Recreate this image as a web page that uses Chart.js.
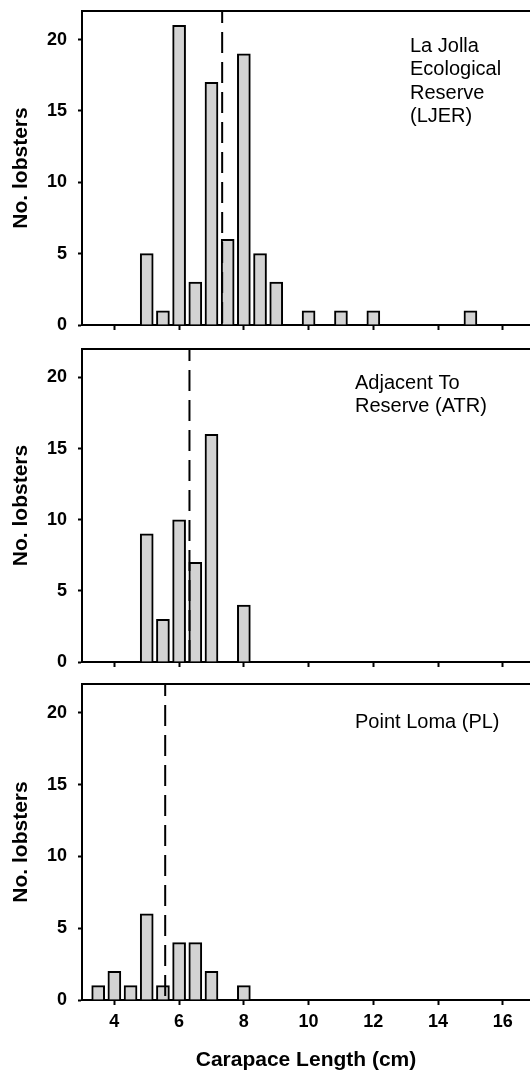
<!DOCTYPE html>
<html>
<head>
<meta charset="utf-8">
<script src="https://cdn.jsdelivr.net/npm/chart.js@4.4.0/dist/chart.umd.min.js"></script>
<style>
  body { margin: 0; background: #fff; }
  canvas { position: absolute; left: 0; }
</style>
</head>
<body>
<canvas id="ljer" width="530" height="340" style="top:0px"></canvas>
<canvas id="atr" width="530" height="337" style="top:340px"></canvas>
<canvas id="pl" width="530" height="396" style="top:677px"></canvas>
<script>
// carapace length bins (cm) and lobster counts
const ljerLengths = [5, 5.5, 6, 6.5, 7, 7.5, 8, 8.5, 9, 10, 11, 12, 15];
const ljerCounts = [5, 1, 21, 3, 17, 6, 19, 5, 3, 1, 1, 1, 1];
const ljerMean = 7.33;

const atrLengths = [5, 5.5, 6, 6.5, 7, 8];
const atrCounts = [9, 3, 10, 7, 16, 4];
const atrMean = 6.32;

const plLengths = [3.5, 4, 4.5, 5, 5.5, 6, 6.5, 7, 8];
const plCounts = [1, 2, 1, 6, 1, 4, 4, 2, 1];
const plMean = 5.57;

const xTicks = [4, 6, 8, 10, 12, 14, 16];
const yTicks = [0, 5, 10, 15, 20];

const ljerLabel = ['La Jolla', 'Ecological', 'Reserve', '(LJER)'];
const atrLabel = ['Adjacent To', 'Reserve (ATR)'];
const plLabel = ['Point Loma (PL)'];

Chart.defaults.font.family = "'Liberation Sans', Arial, sans-serif";
Chart.defaults.color = '#000';

// draws the site name inside the plot
const siteLabel = {
  id: 'siteLabel',
  afterDraw(chart, args, opts) {
    const ctx = chart.ctx;
    const area = chart.chartArea;
    ctx.save();
    ctx.font = "20px 'Liberation Sans', Arial, sans-serif";
    ctx.fillStyle = '#000';
    ctx.textAlign = 'left';
    ctx.textBaseline = 'middle';
    opts.lines.forEach((line, i) => {
      ctx.fillText(line, opts.left, area.top + opts.top + i * 23.5);
    });
    ctx.restore();
  }
};

function makePanel(id, lengths, counts, mean, label, opts) {
  const ctx = document.getElementById(id).getContext('2d');
  return new Chart(ctx, {
    type: 'bar',
    data: {
      datasets: [{
        type: 'line',
        data: [{ x: mean, y: 22 }, { x: mean, y: 0 }],
        borderColor: '#000',
        borderWidth: 2,
        borderDash: [21, 9],
        borderDashOffset: 9,
        pointRadius: 0,
        order: 0
      }, {
        type: 'bar',
        data: lengths.map((x, i) => ({ x: x, y: counts[i] })),
        backgroundColor: '#d3d3d3',
        borderColor: '#000',
        borderWidth: 2,
        barThickness: 13,
        order: 1
      }]
    },
    options: {
      responsive: false,
      animation: false,
      layout: { padding: { top: opts.padTop, left: 0, right: 0, bottom: 0 } },
      plugins: {
        legend: { display: false },
        tooltip: { enabled: false },
        siteLabel: { lines: label, left: opts.textLeft, top: opts.textTop }
      },
      scales: {
        x: {
          type: 'linear',
          position: 'bottom',
          offset: false,
          min: 3,
          max: 16.84,
          afterBuildTicks: s => { s.ticks = xTicks.map(v => ({ value: v })); },
          afterFit: s => {
            s.height = opts.xHeight;
            s.paddingLeft = 0; s.paddingRight = 0;
          },
          grid: { offset: false, drawOnChartArea: false, drawTicks: true, tickLength: 5, tickWidth: 2, tickColor: '#000' },
          border: { display: true, color: '#000', width: 2 },
          ticks: {
            display: opts.showX,
            padding: 6,
            font: { size: 18, weight: 'bold' }
          },
          title: {
            display: opts.showX,
            text: 'Carapace Length (cm)',
            font: { size: 21, weight: 'bold' },
            padding: { top: 0, bottom: 0 }
          }
        },
        xTop: {
          type: 'linear',
          position: 'top',
          offset: false,
          min: 3,
          max: 16.84,
          afterFit: s => { s.height = 0; },
          grid: { offset: false, drawOnChartArea: false, drawTicks: false },
          border: { display: true, color: '#000', width: 2 },
          ticks: { display: false }
        },
        y: {
          min: 0,
          max: 22,
          afterBuildTicks: s => { s.ticks = yTicks.map(v => ({ value: v })); },
          afterFit: s => {
            s.width = 82;
            s.paddingTop = 0; s.paddingBottom = 0;
          },
          grid: { drawOnChartArea: false, drawTicks: true, tickLength: 4, tickWidth: 2, tickColor: '#000' },
          border: { display: true, color: '#000', width: 2 },
          ticks: { padding: 11, font: { size: 18, weight: 'bold' } },
          title: {
            display: true,
            text: 'No. lobsters',
            font: { size: 21, weight: 'bold' },
            padding: { top: 9, bottom: 0 }
          }
        }
      }
    },
    plugins: [siteLabel]
  });
}

makePanel('ljer', ljerLengths, ljerCounts, ljerMean, ljerLabel,
  { padTop: 11, xHeight: 15, showX: false, textLeft: 410, textTop: 35 });
makePanel('atr', atrLengths, atrCounts, atrMean, atrLabel,
  { padTop: 9, xHeight: 15, showX: false, textLeft: 355, textTop: 34 });
makePanel('pl', plLengths, plCounts, plMean, plLabel,
  { padTop: 7, xHeight: 73, showX: true, textLeft: 355, textTop: 38 });
</script>
</body>
</html>
